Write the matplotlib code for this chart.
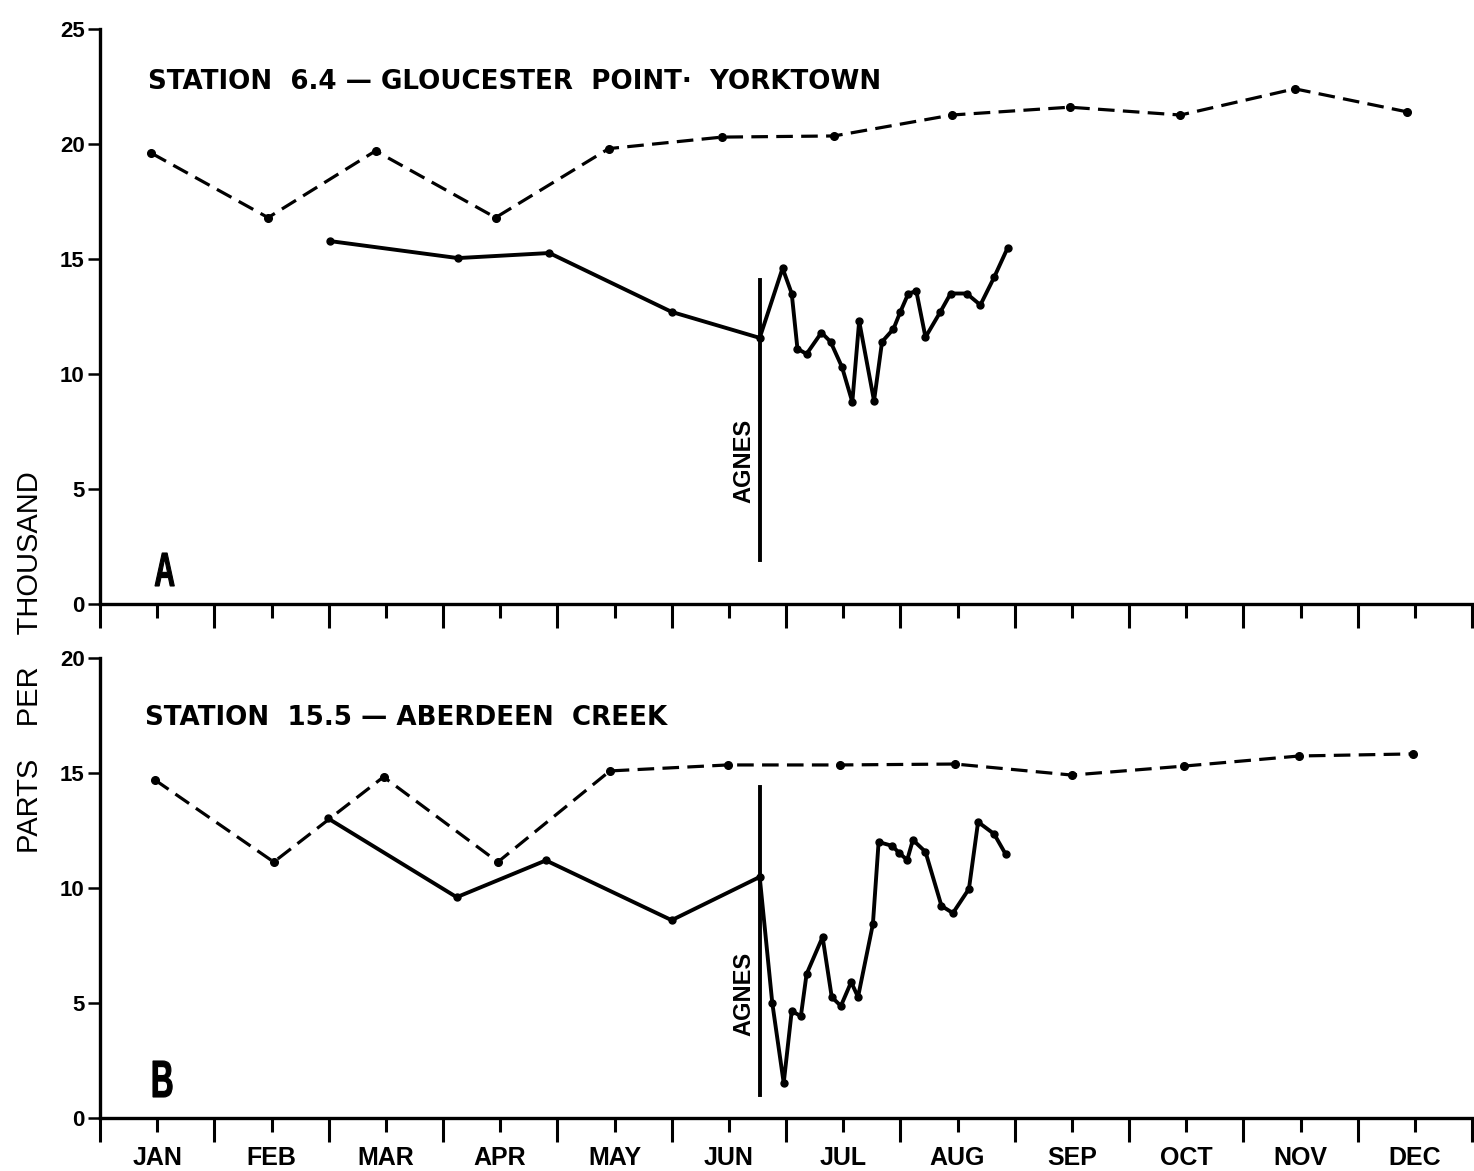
import matplotlib
matplotlib.use("Agg")
import matplotlib.pyplot as plt
from matplotlib.ticker import MultipleLocator
from matplotlib.textpath import TextPath
from matplotlib.patches import PathPatch
from matplotlib.font_manager import FontProperties
from matplotlib.transforms import Affine2D
import numpy as np

# months on the x axis, 0 = start of January, 12 = end of December
months = ["JAN", "FEB", "MAR", "APR", "MAY", "JUN", "JUL", "AUG", "SEP", "OCT", "NOV", "DEC"]

# --- Station 6.4 (panel A) ---
a_dash_x = [0.45, 1.47, 2.41, 3.46, 4.45, 5.44, 6.42, 7.45, 8.48, 9.45, 10.45, 11.43]
a_dash_y = [19.6, 16.8, 19.7, 16.8, 19.8, 20.3, 20.35, 21.26, 21.6, 21.26, 22.4, 21.4]
a_sol_x = [2.01, 3.13, 3.93, 5.0, 5.77, 5.97, 6.05, 6.10, 6.18, 6.31, 6.39, 6.49, 6.58,
           6.64, 6.77, 6.84, 6.94, 7.0, 7.07, 7.14, 7.22, 7.35, 7.44, 7.58, 7.70, 7.82, 7.94]
a_sol_y = [15.78, 15.04, 15.26, 12.7, 11.57, 14.6, 13.5, 11.1, 10.87, 11.8, 11.4, 10.3, 8.78,
           12.3, 8.83, 11.4, 11.96, 12.7, 13.5, 13.6, 11.6, 12.7, 13.5, 13.5, 13.0, 14.2, 15.5]

# --- Station 15.5 (panel B) ---
b_dash_x = [0.48, 1.52, 2.48, 3.48, 4.46, 5.49, 6.47, 7.48, 8.5, 9.48, 10.49, 11.48]
b_dash_y = [14.7, 11.13, 14.83, 11.13, 15.09, 15.35, 15.35, 15.39, 14.91, 15.3, 15.74, 15.83]
b_sol_x = [1.99, 3.12, 3.9, 5.0, 5.77, 5.88, 5.98, 6.05, 6.13, 6.18, 6.32, 6.40, 6.48, 6.57,
           6.63, 6.76, 6.81, 6.93, 6.99, 7.06, 7.11, 7.22, 7.36, 7.46, 7.60, 7.68, 7.82, 7.92]
b_sol_y = [13.04, 9.6, 11.2, 8.6, 10.48, 5.0, 1.52, 4.65, 4.43, 6.26, 7.87, 5.26, 4.87, 5.91,
           5.26, 8.43, 12.0, 11.83, 11.52, 11.22, 12.09, 11.57, 9.22, 8.91, 9.96, 12.87, 12.35, 11.48]

# hurricane Agnes marker
agnes_x = 5.77
agnes_a = (1.9, 14.1)
agnes_b = (1.0, 14.4)

font = "Liberation Sans"
fig = plt.figure(figsize=(14.74, 11.71), dpi=100)
fig.patch.set_facecolor("white")

W, H = 1474.0, 1171.0
axA = fig.add_axes([100 / W, 1 - 604 / H, 1372 / W, 575 / H])
axB = fig.add_axes([100 / W, 1 - 1118 / H, 1372 / W, 460 / H])


def style(ax, ymax):
    ax.set_xlim(0, 12)
    ax.set_ylim(0, ymax)
    for s in ["top", "right"]:
        ax.spines[s].set_visible(False)
    for s in ["left", "bottom"]:
        ax.spines[s].set_linewidth(2.4)
    ax.xaxis.set_major_locator(MultipleLocator(1))
    ax.xaxis.set_minor_locator(MultipleLocator(0.5))
    ax.yaxis.set_major_locator(MultipleLocator(5))
    ax.tick_params(axis="x", which="major", length=17, width=2.2,
                   bottom=True, labelbottom=False)
    ax.tick_params(axis="x", which="minor", length=10, width=2.2)
    for t in ax.xaxis.get_major_ticks() + ax.xaxis.get_minor_ticks():
        t.tick1line.set_marker(3)
    ax.tick_params(axis="y", direction="out", length=9, width=1.8, pad=2)
    ax.set_yticks(ax.get_yticks())
    ax.set_yticklabels([str(int(v)) for v in ax.get_yticks()], fontsize=16,
                       fontweight="bold", family=font)
    ax.set_ylim(0, ymax)


def series(ax, dx, dy, sx, sy, agn):
    ax.plot(dx, dy, color="black", lw=2.3, dashes=(5.2, 2.6), marker="o", ms=5.5,
            clip_on=False)
    ax.plot(sx, sy, color="black", lw=2.8, marker="o", ms=5, clip_on=False)
    ax.plot([agnes_x, agnes_x], agn, color="black", lw=2.8)


def panel_letter(ch, x_px, y_px, h_px, squeeze):
    # tall narrow lettering, squeezed sideways like the stencil letters
    tp = TextPath((0, 0), ch, size=100, prop=FontProperties(family=font, weight="bold"))
    ext = tp.get_extents()
    k = h_px / ext.height
    tr = Affine2D().translate(-ext.x0, -ext.y0).scale(k * squeeze, k).translate(x_px, H - y_px)
    fig.add_artist(PathPatch(tp, transform=tr, color="black", lw=0.8))


style(axA, 25)
style(axB, 20)
series(axA, a_dash_x, a_dash_y, a_sol_x, a_sol_y, agnes_a)
series(axB, b_dash_x, b_dash_y, b_sol_x, b_sol_y, agnes_b)

for i, m in enumerate(months):
    axB.text(i + 0.5, -0.06, m, transform=axB.get_xaxis_transform(), ha="center",
             va="top", fontsize=18, fontweight="bold", family=font)

axA.text(0.42, 22.7, "STATION  6.4 \u2014 GLOUCESTER  POINT\u00b7  YORKTOWN", fontsize=18.8,
         fontweight="bold", family="DejaVu Sans", va="center", ha="left")
axB.text(0.39, 17.4, "STATION  15.5 \u2014 ABERDEEN  CREEK", fontsize=18.8,
         fontweight="bold", family="DejaVu Sans", va="center", ha="left")

axA.text(agnes_x - 0.14, 6.2, "AGNES", rotation=90, ha="center", va="center",
         fontsize=17, fontweight="bold", family=font)
axB.text(agnes_x - 0.14, 5.4, "AGNES", rotation=90, ha="center", va="center",
         fontsize=17, fontweight="bold", family=font)

panel_letter("A", 155, 586, 33, 0.6)
panel_letter("B", 153, 1097, 36, 0.6)

fig.text(30 / W, 1 - 662 / H, "PARTS    PER    THOUSAND", rotation=90, ha="center",
         va="center", fontsize=21, family=font)

fig.savefig("out.png", dpi=100, facecolor="white")
